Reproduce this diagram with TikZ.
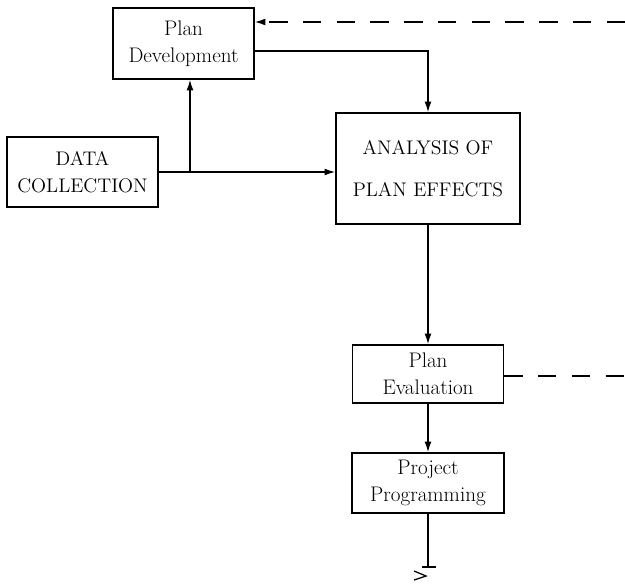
\documentclass[tikz,border=0pt]{standalone}
\usetikzlibrary{arrows.meta}

\begin{document}
\begin{tikzpicture}[x=0.025cm,y=-0.025cm,line width=0.9pt,
  box/.style={draw,line width=1.2pt,align=center,inner sep=0pt,
    font=\fontsize{15}{19}\selectfont},
  capbox/.style={box,font=\fontsize{14}{19}\selectfont},
  flow/.style={-{Latex[length=2.6mm,width=1.7mm]}},
  feedback/.style={flow,dash pattern=on 13pt off 11pt}]
  \useasboundingbox (0,0) rectangle (625,584);
  % boxes
  \node[box,minimum width=3.525cm,minimum height=1.775cm] (dev) at (183.5,43.5) {Plan\\Development};
  \node[capbox,minimum width=3.775cm,minimum height=1.75cm] (data) at (82.5,172) {DATA\\COLLECTION};
  \node[capbox,minimum width=4.6cm,minimum height=2.775cm,font=\fontsize{14}{30}\selectfont] (effects) at (428,168.5) {ANALYSIS OF\\PLAN EFFECTS};
  \node[box,minimum width=3.775cm,minimum height=1.45cm] (eval) at (428,374) {Plan\\Evaluation};
  \node[box,minimum width=3.8cm,minimum height=1.5cm] (prog) at (428,483) {Project\\Programming};
  % connectors
  \coordinate (fbtop) at (625,22);
  \coordinate (fbeval) at (625,376);
  \coordinate (devout) at (254,51);
  \coordinate (split) at (190,172);
  \coordinate (tail) at (428,567);
  \draw[feedback] (fbtop) -- (fbtop -| dev.east);
  \draw[flow] (devout) -| (effects.north);
  \draw[flow] (data.east) -- (data.east -| effects.west);
  \draw[flow] (split) -- (split |- dev.south);
  \draw[flow] (effects.south) -- (eval.north);
  \draw[dash pattern=on 13pt off 11pt] (eval.east |- fbeval) -- (fbeval);
  \draw[flow] (eval.south) -- (prog.north);
  \draw (prog.south) -- (tail);
  \draw ([xshift=-0.15cm]tail) -- ([xshift=0.2cm]tail);
  \draw ([shift={(-14,4)}]tail) -- ([shift={(-2,9)}]tail) -- ([shift={(-14,13)}]tail);
\end{tikzpicture}
\end{document}
